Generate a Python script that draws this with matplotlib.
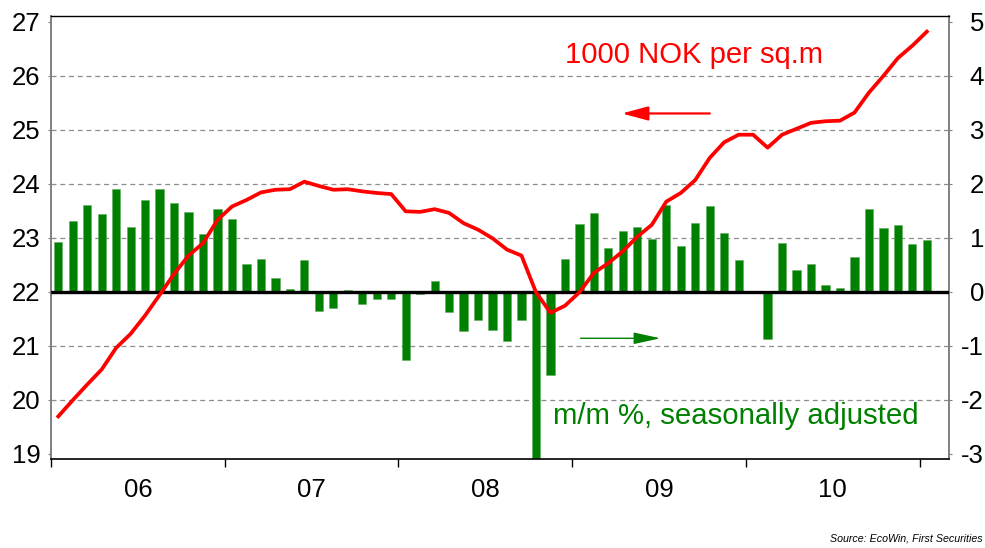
import matplotlib
matplotlib.use("Agg")
import matplotlib.pyplot as plt
import numpy as np

plt.rcParams['font.family'] = ['Liberation Sans', 'DejaVu Sans']

# Monthly data Jan 2006 - Jan 2011
price = [19.69, 19.99, 20.28, 20.56, 20.96, 21.22, 21.56, 21.94, 22.33, 22.67, 22.90, 23.33,
         23.58, 23.70, 23.84, 23.89, 23.90, 24.04, 23.96, 23.89, 23.90, 23.86, 23.83, 23.81,
         23.49, 23.48, 23.53, 23.46, 23.27, 23.15, 22.99, 22.78, 22.67, 21.99, 21.61, 21.74,
         21.99, 22.35, 22.53, 22.75, 23.02, 23.24, 23.67, 23.83, 24.07, 24.48, 24.77, 24.91,
         24.91, 24.67, 24.91, 25.02, 25.13, 25.16, 25.17, 25.32, 25.69, 26.00, 26.33, 26.56,
         26.82]
mom = [0.93, 1.32, 1.61, 1.44, 1.91, 1.20, 1.70, 1.91, 1.65, 1.48, 1.07, 1.54,
       1.34, 0.52, 0.60, 0.26, 0.05, 0.59, -0.35, -0.30, 0.03, -0.22, -0.13, -0.13,
       -1.27, -0.05, 0.19, -0.38, -0.73, -0.52, -0.70, -0.92, -0.53, -3.40, -1.55, 0.61,
       1.25, 1.46, 0.81, 1.12, 1.20, 0.97, 1.61, 0.85, 1.27, 1.58, 1.08, 0.58,
       0.00, -0.88, 0.91, 0.41, 0.52, 0.13, 0.06, 0.65, 1.54, 1.18, 1.24, 0.88,
       0.95]
years = ['06', '07', '08', '09', '10']
left_ticks = [19, 20, 21, 22, 23, 24, 25, 26, 27]
right_ticks = [-3, -2, -1, 0, 1, 2, 3, 4, 5]
right_labels = ['-3', '-2', '-1', '0', '1', '2', '3', '4', '5']
label_price = '1000 NOK per sq.m'
label_mom = 'm/m %, seasonally adjusted'
source = 'Source: EcoWin, First Securities'

red = '#FF0000'
green = '#008000'
grid_c = '#8c8c8c'

fig = plt.figure(figsize=(9.85, 5.48), dpi=100)
axb = fig.add_axes([0.0518, 0.1624, 0.9112, 0.8084])  # bars (right-hand scale)
axl = fig.add_axes(axb.get_position(), sharex=axb)     # line (left-hand scale)
axl.patch.set_visible(False)

x = np.arange(len(mom)) + 0.5
n_months = 62

# --- bar axes (right-hand scale) ---
axb.set_xlim(0, n_months)
axb.set_ylim(-3.1, 5.11)
for v in [-2, -1, 1, 2, 3, 4]:
    axb.axhline(v, color=grid_c, lw=0.9, ls=(0, (4, 3)), zorder=1)
axb.bar(x, mom, width=0.57, color=green, edgecolor='#5fae5f', linewidth=0.4, zorder=2)
axb.axhline(0, color='black', lw=2.4, zorder=3)
axb.yaxis.tick_right()
axb.set_yticks(right_ticks)
axb.set_yticklabels(right_labels)
axb.tick_params(axis='y', which='major', direction='out', length=2.5, color='#808080',
                labelsize=18.5, pad=23)
for t in axb.get_yticklabels():
    t.set_horizontalalignment('right')

# --- line axes (left-hand scale) ---
axl.set_ylim(18.9, 27.11)
axl.plot(x, price, color=red, lw=2.7, solid_joinstyle='round', zorder=5)
axl.yaxis.tick_left()
axl.set_yticks(left_ticks)
axl.tick_params(axis='y', direction='out', length=2.5, color='#808080', labelsize=18.5, pad=5)

# x axis: ticks at year boundaries, labels mid-year
axb.set_xticks(np.arange(0, n_months + 1, 12))
axb.set_xticklabels([])
axb.set_xticks(np.arange(6, 12 * len(years), 12), minor=True)
axb.set_xticklabels(years, minor=True)
axb.tick_params(axis='x', which='major', direction='out', length=6, color='black', width=1)
axb.tick_params(axis='x', which='minor', length=0, labelsize=18.5, pad=14)
axl.tick_params(axis='x', which='both', bottom=False, labelbottom=False)

for ax in (axb, axl):
    for s in ax.spines.values():
        s.set_visible(False)
axb.spines['top'].set_visible(True)
axb.spines['top'].set_color('black')
axb.spines['top'].set_linewidth(1.0)
axb.spines['bottom'].set_visible(True)
axb.spines['bottom'].set_color('black')
axb.spines['bottom'].set_linewidth(1.2)
axb.spines['left'].set_visible(True)
axb.spines['left'].set_color('#808080')
axb.spines['left'].set_linewidth(1.4)
axb.spines['right'].set_visible(True)
axb.spines['right'].set_color('#808080')
axb.spines['right'].set_linewidth(1.4)

# annotations
axl.text(0.5727, 0.894, label_price, transform=axl.transAxes, color=red,
         fontsize=21.1, ha='left', va='baseline')
axl.text(0.5593, 0.079, label_mom, transform=axl.transAxes, color=green,
         fontsize=21.2, ha='left', va='baseline')
axl.annotate('', xy=(0.636, 0.780), xytext=(0.734, 0.780), xycoords='axes fraction',
             arrowprops=dict(arrowstyle='-|>,head_length=1.6,head_width=0.43',
                             mutation_scale=10, color=red, lw=1.6, shrinkA=0, shrinkB=0))
axl.annotate('', xy=(0.679, 0.2725), xytext=(0.590, 0.2725), xycoords='axes fraction',
             arrowprops=dict(arrowstyle='-|>,head_length=1.65,head_width=0.36',
                             mutation_scale=10, color=green, lw=1.0, shrinkA=0, shrinkB=0))

fig.text(0.998, 0.0075, source, fontsize=7.7, style='italic', ha='right', va='bottom')

fig.savefig('out.png', dpi=100)
